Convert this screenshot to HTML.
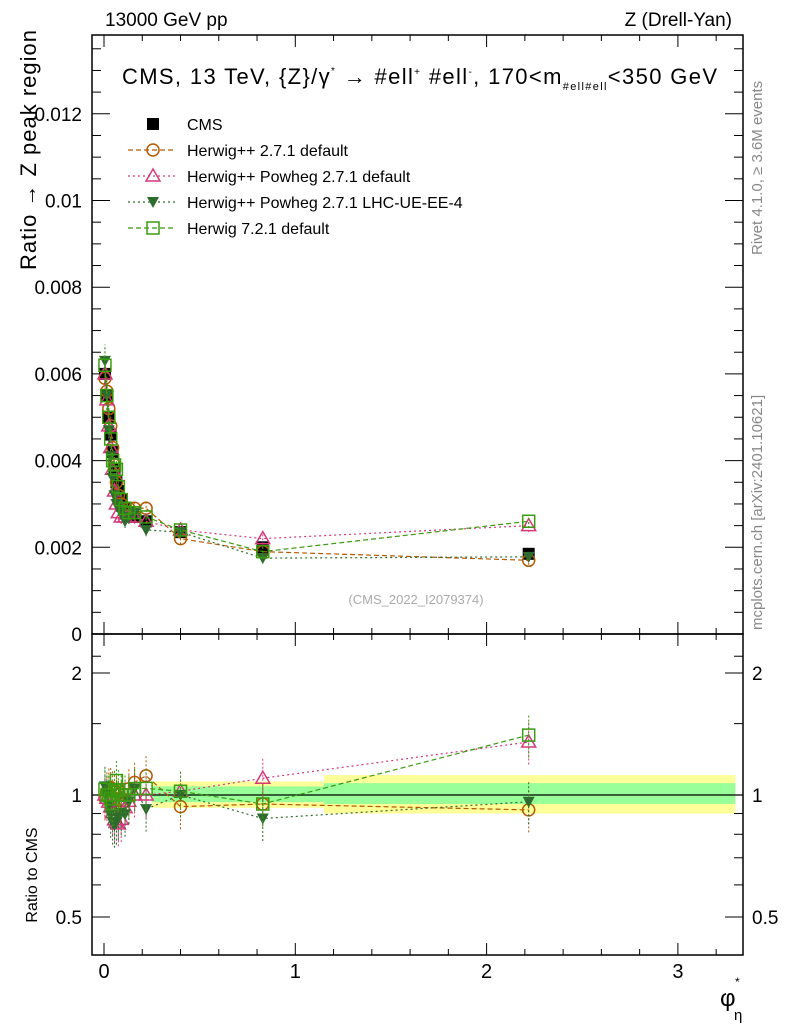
<!DOCTYPE html>
<html><head><meta charset="utf-8"><style>
body{margin:0;background:#fff;width:786px;height:1024px;overflow:hidden}
svg{display:block;font-family:"Liberation Sans",sans-serif}
</style></head><body>
<svg id="c" width="786" height="1024" xmlns="http://www.w3.org/2000/svg">
<text x="105" y="26" font-size="19">13000 GeV pp</text>
<text x="732" y="26" font-size="19" text-anchor="end">Z (Drell-Yan)</text>
<text x="122" y="84" font-size="22" textLength="595" lengthAdjust="spacing">CMS, 13 TeV, {Z}/γ<tspan font-size="10" dy="-10">*</tspan><tspan dy="10"> → #ell</tspan><tspan font-size="10" dy="-9">+</tspan><tspan dy="9"> #ell</tspan><tspan font-size="10" dy="-9">-</tspan><tspan dy="9">, 170&lt;m</tspan><tspan font-size="11" dy="6">#ell#ell</tspan><tspan dy="-6">&lt;350 GeV</tspan></text>
<text transform="translate(36,270) rotate(-90)" font-size="22" textLength="240" lengthAdjust="spacing">Ratio → Z peak region</text>
<text transform="translate(37,875) rotate(-90)" font-size="16" text-anchor="middle">Ratio to CMS</text>
<text transform="translate(762,255) rotate(-90)" font-size="15" fill="#888">Rivet 4.1.0, ≥ 3.6M events</text>
<text transform="translate(762,630) rotate(-90)" font-size="15" fill="#888">mcplots.cern.ch [arXiv:2401.10621]</text>
<text x="416" y="604" font-size="13" fill="#aaa" text-anchor="middle">(CMS_2022_I2079374)</text>
<g>
<text x="720" y="1006" font-size="24">φ</text>
<text x="735" y="986" font-size="12">*</text>
<text x="734" y="1020" font-size="15">η</text>
</g>
<g id="g"></g>
</svg>
<script>
const xVals=[0.005,0.015,0.025,0.035,0.045,0.055,0.065,0.075,0.09,0.11,0.13,0.16,0.22,0.4,0.83,2.22];
const cmsVals=[0.0060,0.0055,0.0050,0.0046,0.0042,0.0038,0.0035,0.0033,0.0031,0.0029,0.0028,0.0027,0.0026,0.00235,0.0020,0.00185];
const hwppVals=[0.0059,0.0056,0.0052,0.0048,0.0043,0.0039,0.0035,0.0032,0.0030,0.0028,0.0029,0.0029,0.0029,0.0022,0.0019,0.0017];
const powhegVals=[0.0060,0.0054,0.0048,0.0043,0.0038,0.0033,0.0030,0.0028,0.0027,0.0027,0.0027,0.0027,0.0026,0.0024,0.0022,0.0025];
const powhegUEVals=[0.0063,0.0055,0.0047,0.0041,0.0036,0.0032,0.0030,0.0029,0.0028,0.0026,0.0027,0.0028,0.0024,0.00235,0.00175,0.00178];
const hw7Vals=[0.0062,0.0055,0.0050,0.0045,0.0040,0.0039,0.0038,0.0034,0.0031,0.0029,0.0028,0.0028,0.0027,0.0024,0.0019,0.0026];
const bandEdges=[0.25,1.15,3.3];
const bandYellow=[[0.93,1.08],[0.90,1.12]];
const bandGreen=[[0.96,1.05],[0.95,1.07]];
const xTicks=[0,1,2,3];
const yTicks=[0,0.002,0.004,0.006,0.008,0.01,0.012];
const yTickLabels=["0","0.002","0.004","0.006","0.008","0.01","0.012"];
const rTicks=[0.5,1,2];

const NS="http://www.w3.org/2000/svg";
const g=document.getElementById('g');
const L=92,R=743,T=35,MB=634,RB=955;
const X=v=>104+v*191.3;
const Y=v=>634-v*43350;
const RY=v=>795-Math.log2(v)*122;
function el(tag,a,parent){const e=document.createElementNS(NS,tag);for(const k in a)e.setAttribute(k,a[k]);(parent||g).appendChild(e);return e;}

for(let i=0;i<bandYellow.length;i++){
 const r=el('rect',{x:X(bandEdges[i]),y:RY(bandYellow[i][1]),width:X(bandEdges[i+1])-X(bandEdges[i]),height:RY(bandYellow[i][0])-RY(bandYellow[i][1]),fill:'#ffff99'});
 
 
 const r2=el('rect',{x:X(bandEdges[i]),y:RY(bandGreen[i][1]),width:X(bandEdges[i+1])-X(bandEdges[i]),height:RY(bandGreen[i][0])-RY(bandGreen[i][1]),fill:'#99ff99'});
 
 
}
el('line',{x1:L,x2:R,y1:RY(1),y2:RY(1),stroke:'#000','stroke-width':1.2});

el('rect',{x:L,y:T,width:R-L,height:MB-T,fill:'none',stroke:'#000','stroke-width':1.5});
el('rect',{x:L,y:MB,width:R-L,height:RB-MB,fill:'none',stroke:'#000','stroke-width':1.5});

for(let v=0;v<=3.3;v+=0.2){const x=X(v);const major=Math.abs(v-Math.round(v))<1e-6;const h=major?12:6;
 [T,MB].forEach(y0=>el('line',{x1:x,x2:x,y1:y0,y2:y0+h,stroke:'#000'}));
 [MB,RB].forEach(y0=>el('line',{x1:x,x2:x,y1:y0,y2:y0-h,stroke:'#000'}));}
xTicks.forEach(v=>{const t=el('text',{x:X(v),y:978,'font-size':20,'text-anchor':'middle'});t.textContent=v;
 
 });
for(let v=0;v<=0.0138;v+=0.0005){const y=Y(v);const major=Math.round(v/0.0005)%4==0;const h=major?18:9;
 el('line',{x1:L,x2:L+h,y1:y,y2:y,stroke:'#000'});el('line',{x1:R,x2:R-h,y1:y,y2:y,stroke:'#000'});}
yTicks.forEach((v,i)=>{const t=el('text',{x:82,y:Y(v)+7,'font-size':19,'text-anchor':'end'});t.textContent=yTickLabels[i];
 
 });
[0.5,0.6,0.7,0.8,0.9,1,2].forEach(v=>{const y=RY(v);const major=rTicks.includes(v);const h=major?18:9;
 el('line',{x1:L,x2:L+h,y1:y,y2:y,stroke:'#000'});el('line',{x1:R,x2:R-h,y1:y,y2:y,stroke:'#000'});});
[1.5,2.2].forEach(v=>{const y=RY(v);el('line',{x1:L,x2:L+9,y1:y,y2:y,stroke:'#000'});el('line',{x1:R,x2:R-9,y1:y,y2:y,stroke:'#000'});});
rTicks.forEach(v=>{[82,752].forEach((xx,j)=>{const t=el('text',{x:xx,y:RY(v)+7,'font-size':19,'text-anchor':j?'start':'end'});t.textContent=v;
 
 });});

function marker(type,x,y,col,parent){
 if(type=='sq')return el('rect',{x:x-6,y:y-6,width:12,height:12,fill:col},parent);
 if(type=='circ')return el('circle',{cx:x,cy:y,r:6,fill:'none',stroke:col,'stroke-width':1.5},parent);
 if(type=='tri')return el('polygon',{points:`${x},${y-7} ${x-7},${y+5} ${x+7},${y+5}`,fill:'none',stroke:col,'stroke-width':1.5},parent);
 if(type=='dtri')return el('polygon',{points:`${x-6},${y-5} ${x+6},${y-5} ${x},${y+6}`,fill:col},parent);
 if(type=='osq')return el('rect',{x:x-6,y:y-6,width:12,height:12,fill:'none',stroke:col,'stroke-width':1.5},parent);
}
const series=[
 {name:'hwpp-default',vals:hwppVals,col:'#b35900',m:'circ',dash:'5,3'},
 {name:'powheg-default',vals:powhegVals,col:'#d6397a',m:'tri',dash:'2,3'},
 {name:'powheg-lhc-ue',vals:powhegUEVals,col:'#2e6b2e',m:'dtri',dash:'2,3'},
 {name:'herwig7-default',vals:hw7Vals,col:'#3a9a10',m:'osq',dash:'5,3'}];
const cg=el('g',{});
xVals.forEach((x,i)=>{const e=cmsVals[i]*0.04;el('line',{x1:X(x),x2:X(x),y1:Y(cmsVals[i]-e),y2:Y(cmsVals[i]+e),stroke:'#000'},cg);
 const p=marker('sq',X(x),Y(cmsVals[i]),'#000',cg);
 
 });
series.forEach(s=>{
 const sg=el('g',{});
 el('polyline',{points:xVals.map((x,i)=>X(x)+','+Y(s.vals[i])).join(' '),fill:'none',stroke:s.col,'stroke-width':1.2,'stroke-dasharray':s.dash},sg);
 el('polyline',{points:xVals.map((x,i)=>X(x)+','+RY(s.vals[i]/cmsVals[i])).join(' '),fill:'none',stroke:s.col,'stroke-width':1.2,'stroke-dasharray':s.dash},sg);
 xVals.forEach((x,i)=>{const v=s.vals[i],r=v/cmsVals[i],e=0.06;
  el('line',{x1:X(x),x2:X(x),y1:Y(v*(1-e)),y2:Y(v*(1+e)),stroke:s.col,'stroke-dasharray':'2,2'},sg);
  el('line',{x1:X(x),x2:X(x),y1:RY(r*(1-e*2)),y2:RY(r*(1+e*2)),stroke:s.col,'stroke-dasharray':'2,2'},sg);
  const p=marker(s.m,X(x),Y(v),s.col,sg);
  
  
  const q=marker(s.m,X(x),RY(r),s.col,sg);
  
  });
});
const lg=el('g',{});
const labels=['CMS','Herwig++ 2.7.1 default','Herwig++ Powheg 2.7.1 default','Herwig++ Powheg 2.7.1 LHC-UE-EE-4','Herwig 7.2.1 default'];
labels.forEach((lab,i)=>{const y=124+i*26;
 const eg=el('g',{},lg);
 if(i==0)marker('sq',153,y,'#000',eg);
 else{const s=series[i-1];el('line',{x1:128,x2:176,y1:y,y2:y,stroke:s.col,'stroke-dasharray':s.dash,'stroke-width':1.2},eg);marker(s.m,153,y,s.col,eg);}
 const t=el('text',{x:187,y:y+6,'font-size':16},eg);t.textContent=lab;});
</script>
</body></html>
